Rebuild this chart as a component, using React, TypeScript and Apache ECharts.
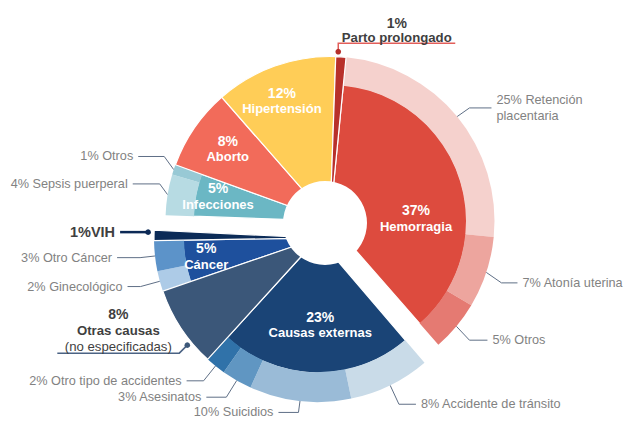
import React, { useEffect, useRef } from "react";
import * as echarts from "echarts";

// ---------------- data (percent of maternal deaths) ----------------
const causes = ["Parto prolongado", "Hemorragia", "Causas externas", "Otras causas", "Cáncer", "VIH", "Infecciones", "Aborto", "Hipertensión"];
const causeValues = [1, 37, 23, 8, 5, 1, 5, 8, 12];

const hemorragiaParts = ["Retención placentaria", "Atonía uterina", "Otros"];
const hemorragiaValues = [25, 7, 5];
const externasParts = ["Accidente de tránsito", "Suicidios", "Asesinatos", "Otro tipo de accidentes"];
const externasValues = [8, 10, 3, 2];
const cancerParts = ["Ginecológico", "Otro Cáncer"];
const cancerValues = [2, 3];
const infeccionesParts = ["Sepsis puerperal", "Otros"];
const infeccionesValues = [4, 1];
const otrasCausasNote = "(no especificadas)";

const breakdowns: Record<string, { names: string[]; values: number[] }> = {
  "Hemorragia": { names: hemorragiaParts, values: hemorragiaValues },
  "Causas externas": { names: externasParts, values: externasValues },
  "Cáncer": { names: cancerParts, values: cancerValues },
  "Infecciones": { names: infeccionesParts, values: infeccionesValues },
};

// ---------------- styles ----------------
const FONT = '"Liberation Sans", Arial, Helvetica, sans-serif';
const GRAY_TEXT = "#828282";
const DARK_TEXT = "#3f3f3f";
const LEADER = "#5f6f86";

const causeColors: Record<string, string> = {
  "Parto prolongado": "#B8302A",
  "Hemorragia": "#DD4B3E",
  "Causas externas": "#1A4476",
  "Otras causas": "#3B5779",
  "Cáncer": "#1E509D",
  "VIH": "#0B2B57",
  "Infecciones": "#6BB7C4",
  "Aborto": "#F26B5A",
  "Hipertensión": "#FFCD57",
};

const partColors: Record<string, string> = {
  "Hemorragia:Retención placentaria": "#F5D1CD",
  "Hemorragia:Atonía uterina": "#EDA59E",
  "Hemorragia:Otros": "#E57A72",
  "Causas externas:Accidente de tránsito": "#C9DBE8",
  "Causas externas:Suicidios": "#9ABBD7",
  "Causas externas:Asesinatos": "#6096C2",
  "Causas externas:Otro tipo de accidentes": "#3072A9",
  "Cáncer:Ginecológico": "#ADCBE7",
  "Cáncer:Otro Cáncer": "#5C93C9",
  "Infecciones:Sepsis puerperal": "#B7DBE3",
  "Infecciones:Otros": "#98C9D5",
};

// leader line: [length, length2, vertical lift of the horizontal part]
const leaderStyle: Record<string, [number, number, number]> = {
  "Hemorragia:Retención placentaria": [16, 22, 1.5],
  "Hemorragia:Atonía uterina": [16, 16, 5.5],
  "Hemorragia:Otros": [17, 18, 3],
  "Causas externas:Accidente de tránsito": [20, 17, 1],
  "Causas externas:Suicidios": [14, 20, -2.5],
  "Causas externas:Asesinatos": [21, 20, -1.5],
  "Causas externas:Otro tipo de accidentes": [19, 17, 0],
  "Cáncer:Ginecológico": [20, 13, 0],
  "Cáncer:Otro Cáncer": [15, 23, 0],
  "Infecciones:Sepsis puerperal": [8, 27, -9.5],
  "Infecciones:Otros": [10, 26, -10],
};
// parts whose label wraps after the first word
const wrappedParts = ["Retención placentaria"];

// nudges of the white inside labels
const insideNudge: Record<string, [number, number]> = {
  "Hemorragia": [6.5, 23],
  "Infecciones": [-30, -9],
  "Aborto": [-22, -17.5],
  "Hipertensión": [-15.5, -28.5],
  "Causas externas": [3.5, 4.5],
  "Cáncer": [-30.5, 4],
};

// layout of the three blocks of the ring (clockwise start angle from 12 o'clock)
const groups = [
  { members: ["Infecciones", "Aborto", "Hipertensión"], center: [330, 221], startCw: 272, split: 137, outer: 164.5 },
  { members: ["Causas externas", "Otras causas", "Cáncer", "VIH"], center: [318, 238], startCw: 139.5, split: 135, outer: 164 },
  { members: ["Parto prolongado", "Hemorragia"], center: [330, 221], startCw: 2, split: 137, outer: 164.5 },
];
const INNER_R = 24;
const HOLE = { cx: 325, cy: 223, r: 42 };

// bold call-outs with a dot on the slice
const callouts: Record<string, any> = {
  "Parto prolongado": { anchor: 0.22, gap: 5, shape: "up", bend: [0, -8.5], run: 117, line: "#E25E5A", dot: "#B52F2A", width: 1.5 },
  "VIH": { anchor: 0.8, gap: 6, shape: "left", bend: [0, 0], run: 28, line: "#0C2A56", dot: "#0C2A56", width: 2.5 },
  "Otras causas": { anchor: 0.29, gap: 5, shape: "under", bend: [-8, 8], run: 122, line: "#4B6384", dot: "#3C5879", width: 1.5 },
};

function buildOption() {
  const total = causeValues.reduce((a, b) => a + b, 0);
  const degPerUnit = 360 / total;
  const valueOf = (m: string) => causeValues[causes.indexOf(m)];
  const rad = (d: number) => (d * Math.PI) / 180;
  const polar = (c: number[], r: number, cw: number) => [c[0] + r * Math.sin(rad(cw)), c[1] - r * Math.cos(rad(cw))];

  const hidden = (name: string, value: number) => ({
    name, value,
    itemStyle: { color: "rgba(0,0,0,0)", borderWidth: 0 },
    label: { show: false }, labelLine: { show: false },
  });

  const whiteRich = {
    p: { fontSize: 14, fontWeight: "bold", color: "#fff", lineHeight: 16, fontFamily: FONT, textBorderWidth: 0 },
    n: { fontSize: 13, fontWeight: "bold", color: "#fff", lineHeight: 16, fontFamily: FONT, textBorderWidth: 0 },
  };
  const insideLabel = (name: string) => {
    const [dx, dy] = insideNudge[name] || [0, 0];
    return {
      show: true, position: "inside", formatter: "{p|{c}%}\n{n|{b}}", color: "#fff", textBorderWidth: 0,
      padding: [Math.max(0, 2 * dy), Math.max(0, -2 * dx), Math.max(0, -2 * dy), Math.max(0, 2 * dx)],
      rich: whiteRich,
    };
  };
  const darkRich = {
    p: { fontSize: 14, fontWeight: "bold", color: DARK_TEXT, fontFamily: FONT },
    n: { fontSize: 13.2, fontWeight: "bold", color: DARK_TEXT, fontFamily: FONT },
    m: { fontSize: 13.2, color: DARK_TEXT, fontFamily: FONT },
  };

  const series: any[] = [];
  const graphics: any[] = [{ type: "circle", shape: { cx: HOLE.cx, cy: HOLE.cy, r: HOLE.r }, style: { fill: "#fff" }, z: 100, silent: true }];

  groups.forEach((g) => {
    const sum = g.members.reduce((s, m) => s + valueOf(m), 0);
    const rest = total - sum;
    const tail = rest > 0 ? [hidden("resto", rest)] : [];
    const common = {
      type: "pie", center: g.center, startAngle: 90 - g.startCw, clockwise: true,
      avoidLabelOverlap: false, silent: true, animation: false,
      emphasis: { disabled: true }, label: { show: false }, labelLine: { show: false },
    };

    // angular extent of every member
    const extent: Record<string, [number, number]> = {};
    let a = g.startCw;
    g.members.forEach((m) => { const e = a + valueOf(m) * degPerUnit; extent[m] = [a, e]; a = e; });

    // call-out geometry
    const calloutGeom: Record<string, any> = {};
    g.members.forEach((m) => {
      const c = callouts[m];
      if (!c) return;
      const [s, e] = extent[m];
      const p0 = polar(g.center, g.outer + c.gap, s + c.anchor * (e - s));
      const p1 = [p0[0] + c.bend[0], p0[1] + c.bend[1]];
      const p2 = c.shape === "up" ? [p1[0] + c.run, p1[1]] : [p1[0] - c.run, p1[1]];
      const geom: any = { points: [p0, p1, p2] };
      if (c.shape === "left") {
        Object.assign(geom, { x: p2[0] - 5, y: p2[1], align: "right", verticalAlign: "middle" });
      } else {
        Object.assign(geom, { x: (p1[0] + p2[0]) / 2, y: p1[1] + 1, align: "center", verticalAlign: "bottom" });
      }
      calloutGeom[m] = geom;
      graphics.push({ type: "circle", shape: { cx: p0[0], cy: p0[1], r: 2.8 }, style: { fill: c.dot }, z: 101, silent: true });
    });

    // inner part of subdivided causes
    series.push({
      ...common, radius: [INNER_R, g.split],
      data: [
        ...g.members.map((m) => breakdowns[m]
          ? { name: m, value: valueOf(m), itemStyle: { color: causeColors[m], borderColor: "#fff", borderWidth: 1.2 }, label: insideLabel(m), labelLine: { show: false } }
          : hidden(m, valueOf(m))),
        ...tail,
      ],
    });

    // outer ring with the breakdowns
    const outerKeys: string[] = [];
    const outerData: any[] = [];
    g.members.forEach((m) => {
      const b = breakdowns[m];
      if (!b) { outerKeys.push(""); outerData.push(hidden(m, valueOf(m))); return; }
      b.names.forEach((p, i) => {
        const key = `${m}:${p}`;
        const [len, len2] = leaderStyle[key] || [15, 15, 0];
        const wrap = wrappedParts.includes(p);
        outerKeys.push(key);
        outerData.push({
          name: p, value: b.values[i],
          itemStyle: { color: partColors[key], borderWidth: 0 },
          label: {
            show: true, position: "outside",
            formatter: wrap ? (q: any) => `${q.value}% ${q.name.replace(" ", "\n")}` : "{c}% {b}",
            color: GRAY_TEXT, fontSize: 12.7, fontFamily: FONT, lineHeight: 16, overflow: "none", distanceToLabelLine: 5,
            ...(wrap ? { padding: [16, 0, 0, 0] } : {}),
          },
          labelLine: { show: true, length: len, length2: len2, smooth: false, lineStyle: { color: LEADER, width: 1 } },
        });
      });
    });
    tail.forEach((t) => { outerKeys.push(""); outerData.push(t); });
    series.push({
      ...common, radius: [g.split - 1, g.outer], data: outerData,
      labelLayout: (params: any) => {
        const key = outerKeys[params.dataIndex];
        const st = key ? leaderStyle[key] : null;
        const pts = params.labelLinePoints;
        if (!st || !st[2] || !pts || pts.length < 3) return {};
        const moved = pts.map((p: number[], i: number) => (i === 0 ? p : [p[0], p[1] + st[2]]));
        return { y: moved[moved.length - 1][1], labelLinePoints: moved };
      },
    });

    // full-depth causes (no breakdown)
    const fullNames: string[] = [];
    const fullData: any[] = [];
    g.members.forEach((m) => {
      fullNames.push(m);
      if (breakdowns[m]) { fullData.push(hidden(m, valueOf(m))); return; }
      const c = callouts[m];
      let label: any;
      if (!c) label = insideLabel(m);
      else if (m === "VIH") label = { show: true, position: "outside", formatter: "{c}%{b}", color: DARK_TEXT, fontSize: 14.5, fontWeight: "bold", fontFamily: FONT };
      else if (m === "Otras causas") label = { show: true, position: "outside", formatter: `{p|{c}%}\n{n|{b}}\n{m|${otrasCausasNote}}`, lineHeight: 16, rich: { p: { ...darkRich.p, lineHeight: 16 }, n: { ...darkRich.n, lineHeight: 16 }, m: { ...darkRich.m, lineHeight: 16 } } };
      else label = { show: true, position: "outside", formatter: "{p|{c}%}\n{n|{b}}", lineHeight: 14, rich: { p: { ...darkRich.p, lineHeight: 14 }, n: { ...darkRich.n, lineHeight: 14 } } };
      fullData.push({
        name: m, value: valueOf(m),
        itemStyle: { color: causeColors[m], borderColor: "#fff", borderWidth: 1.2 },
        label,
        labelLine: c ? { show: true, smooth: false, lineStyle: { color: c.line, width: c.width } } : { show: false },
      });
    });
    tail.forEach((t) => { fullNames.push(""); fullData.push(t); });
    series.push({
      ...common, radius: [INNER_R, g.outer], data: fullData,
      labelLayout: (params: any) => {
        const geom = calloutGeom[fullNames[params.dataIndex]];
        if (!geom) return {};
        return { x: geom.x, y: geom.y, align: geom.align, verticalAlign: geom.verticalAlign, labelLinePoints: geom.points };
      },
    });
  });

  return {
    animation: false,
    textStyle: { fontFamily: FONT },
    series,
    graphic: { elements: graphics },
  };
}

export default function App() {
  const ref = useRef<HTMLDivElement>(null);
  useEffect(() => {
    document.body.style.margin = "0";
    const chart = echarts.init(ref.current as HTMLDivElement, undefined, { renderer: "svg" });
    chart.setOption(buildOption() as any);
    return () => chart.dispose();
  }, []);
  return <div ref={ref} style={{ width: 624, height: 421 }} />;
}
